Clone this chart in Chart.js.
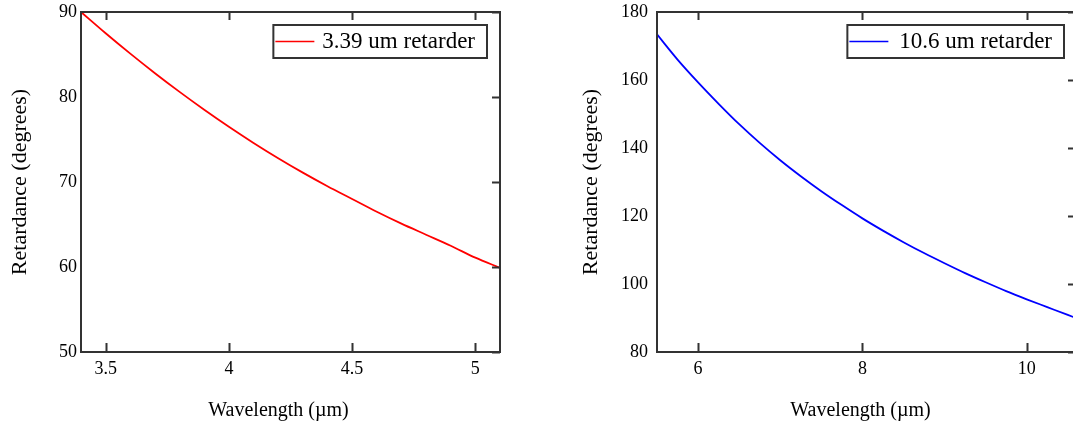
<!DOCTYPE html>
<html>
<head>
<meta charset="utf-8">
<script src="https://cdn.jsdelivr.net/npm/chart.js@4.4.1/dist/chart.umd.min.js"></script>
<style>
  html, body { margin: 0; padding: 0; background: #fff; overflow: hidden; width: 1073px; height: 425px; }
  canvas { position: absolute; top: 0; }
  #c1 { left: 0; }
  #c2 { left: 570px; }
</style>
</head>
<body>
<canvas id="c1" width="540" height="425"></canvas>
<canvas id="c2" width="520" height="425"></canvas>
<script>
// ---- Data ----
const wavelength339 = [3.4, 3.5, 3.6, 3.7, 3.8, 3.9, 4.0, 4.1, 4.2, 4.3, 4.4, 4.5, 4.6, 4.7, 4.8, 4.9, 5.0, 5.1];
const retardance339 = [90.0, 87.5, 85.1, 82.8, 80.6, 78.5, 76.5, 74.6, 72.8, 71.1, 69.5, 68.0, 66.5, 65.1, 63.8, 62.5, 61.1, 59.9];

const wavelength106 = [5.5, 5.75, 6.0, 6.25, 6.5, 6.75, 7.0, 7.25, 7.5, 7.75, 8.0, 8.25, 8.5, 8.75, 9.0, 9.25, 9.5, 9.75, 10.0, 10.25, 10.5, 10.6];
const retardance106 = [173.4, 166.0, 159.3, 153.0, 147.0, 141.5, 136.4, 131.7, 127.3, 123.2, 119.3, 115.7, 112.3, 109.1, 106.1, 103.2, 100.5, 97.9, 95.5, 93.2, 90.9, 90.0];

const xTicks339 = [3.5, 4, 4.5, 5];
const yTicks339 = [50, 60, 70, 80, 90];
const xTicks106 = [6, 8, 10];
const yTicks106 = [80, 100, 120, 140, 160, 180];

const label339 = '3.39 um retarder';
const label106 = '10.6 um retarder';
const xTitle = 'Wavelength (\u00b5m)';
const yTitle = 'Retardance (degrees)';

const SERIF = "'Liberation Serif', 'Times New Roman', serif";

const framePlugin = {
  id: 'frameAndLegend',
  beforeDraw(chart) {
    const xs = chart.scales.x;
    const shift = chart.options.plugins.frameAndLegend.xTitleShift;
    if (!xs._titleShifted) {
      const orig = xs.drawTitle;
      xs.drawTitle = function () {
        const c = this.ctx;
        c.save();
        c.translate(shift, 0);
        orig.apply(this, arguments);
        c.restore();
      };
      xs._titleShifted = true;
    }
  },
  afterDatasetsDraw(chart) {
    const ctx = chart.ctx;
    const a = chart.chartArea;
    const xs = chart.scales.x, ys = chart.scales.y;
    ctx.save();
    ctx.strokeStyle = '#333';
    ctx.lineWidth = 2;
    // inward ticks (top/bottom for x, right side for y)
    ctx.beginPath();
    xs.ticks.forEach(t => {
      const px = Math.round(xs.getPixelForValue(t.value)) + 0.5;
      ctx.moveTo(px, a.bottom); ctx.lineTo(px, a.bottom - 9);
      ctx.moveTo(px, a.top); ctx.lineTo(px, a.top + 8);
    });
    ys.ticks.forEach(t => {
      const py = Math.round(ys.getPixelForValue(t.value)) + 0.5;
      ctx.moveTo(a.right, py); ctx.lineTo(a.right - 8, py);
    });
    ctx.stroke();
    // frame
    ctx.strokeRect(a.left, a.top, a.right - a.left, a.bottom - a.top);

    // legend box
    const ds = chart.data.datasets[0];
    const opts = chart.options.plugins.frameAndLegend;
    ctx.font = '23px ' + SERIF;
    const tw = ctx.measureText(ds.label).width;
    const boxRight = opts.boxRight;
    const boxW = opts.textOffset + tw + 12;
    const boxL = boxRight - boxW;
    const boxT = a.top + 13, boxH = 33;
    ctx.fillStyle = '#fff';
    ctx.fillRect(boxL, boxT, boxW, boxH);
    ctx.strokeStyle = '#333';
    ctx.lineWidth = 2;
    ctx.strokeRect(boxL, boxT, boxW, boxH);
    ctx.strokeStyle = ds.borderColor;
    ctx.lineWidth = 1.6;
    ctx.beginPath();
    ctx.moveTo(boxL + 2, boxT + 16.5);
    ctx.lineTo(boxL + opts.lineLen, boxT + 16.5);
    ctx.stroke();
    ctx.fillStyle = '#000';
    ctx.textBaseline = 'middle';
    ctx.textAlign = 'left';
    ctx.fillText(ds.label, boxL + opts.textOffset, boxT + 17);
    ctx.restore();
  }
};

function makeChart(id, xsArr, ysArr, label, color, xMin, xMax, yMin, yMax, xTicks, yTicks, cfg) {
  return new Chart(document.getElementById(id), {
    type: 'line',
    data: {
      datasets: [{
        label: label,
        data: xsArr.map((x, i) => ({ x: x, y: ysArr[i] })),
        borderColor: color,
        borderWidth: 1.8,
        pointRadius: 0,
        cubicInterpolationMode: 'monotone',
        fill: false
      }]
    },
    options: {
      responsive: false,
      animation: false,
      layout: { padding: { top: 12, right: cfg.padRight, left: 0, bottom: 0 } },
      plugins: {
        legend: { display: false },
        tooltip: { enabled: false },
        frameAndLegend: { boxRight: cfg.boxRight, textOffset: cfg.textOffset, lineLen: cfg.lineLen, xTitleShift: cfg.xTitleShift }
      },
      scales: {
        x: {
          type: 'linear',
          min: xMin, max: xMax,
          grid: { display: false, drawTicks: false },
          border: { display: false },
          afterBuildTicks: s => { s.ticks = xTicks.map(v => ({ value: v })); },
          afterFit: s => { s.height = 73; s.paddingLeft = 0; s.paddingRight = 0; },
          ticks: { color: '#000', padding: 6, maxRotation: 0, autoSkip: false,
                   font: { family: SERIF, size: 18 }, callback: v => String(v) },
          title: { display: true, text: xTitle, color: '#000',
                   font: { family: SERIF, size: 20 }, padding: { top: 0, bottom: 2 } }
        },
        y: {
          type: 'linear',
          min: yMin, max: yMax,
          grid: { display: false, drawTicks: false },
          border: { display: false },
          afterBuildTicks: s => { s.ticks = yTicks.map(v => ({ value: v })); },
          afterFit: s => { s.width = cfg.yWidth; s.paddingTop = 0; s.paddingBottom = 0; },
          ticks: { color: '#000', padding: cfg.yTickPad, autoSkip: false,
                   font: { family: SERIF, size: 18 }, callback: v => String(v) },
          title: { display: true, text: yTitle, color: '#000',
                   font: { family: SERIF, size: 22 }, padding: { top: cfg.yTitlePad, bottom: 0 } }
        }
      }
    },
    plugins: [framePlugin]
  });
}

makeChart('c1', wavelength339, retardance339, label339, '#ff0000', 3.4, 5.1, 50, 90, xTicks339, yTicks339,
  { padRight: 40, yWidth: 81, yTickPad: 4, yTitlePad: 7, boxRight: 487, textOffset: 49, lineLen: 41, xTitleShift: -12 });
makeChart('c2', wavelength106, retardance106, label106, '#0000ff', 5.5, 10.6, 80, 180, xTicks106, yTicks106,
  { padRight: 14, yWidth: 87, yTickPad: 9, yTitlePad: 8, boxRight: 1064 - 570, textOffset: 52, lineLen: 41, xTitleShift: -6 });
</script>
</body>
</html>
